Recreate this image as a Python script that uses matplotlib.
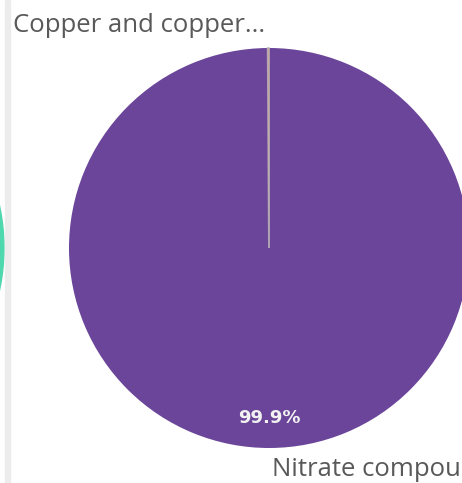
import matplotlib
matplotlib.use("Agg")
import matplotlib.pyplot as plt
from matplotlib.patches import Circle, Rectangle

# data
categories = ["Nitrate compounds", "Copper and copper compounds"]
shares = [99.9, 0.1]
colors = ["#6a4599", "#e2683c"]

W, H = 462, 483
fig = plt.figure(figsize=(W / 100, H / 100), dpi=100)
ax = fig.add_axes([0, 0, 1, 1])
ax.set_xlim(0, W)
ax.set_ylim(0, H)
ax.set_aspect("equal")
ax.axis("off")

# neighbouring panel bits on the left
ax.add_patch(Circle((-196, 235), 200, color="#4fd8ae", zorder=1))
ax.add_patch(Rectangle((5, 0), 5, H, color="#ececec", zorder=2))

cx, cy, r = 269, 235, 200


def pct(p):
    return f"{p:.1f}%" if p > 5 else ""


wedges, _, autotexts = ax.pie(
    shares, colors=colors, startangle=90, counterclock=False,
    center=(cx, cy), radius=r, autopct=pct, pctdistance=0.85,
    wedgeprops=dict(linewidth=0), frame=True,
    textprops=dict(color="#f2f2f2", fontsize=13, fontweight="bold"),
)
wedges[1].set_edgecolor((0.74, 0.72, 0.72, 0.8))
wedges[1].set_linewidth(1.4)
wedges[1].set_zorder(5)

ax.set_xlim(0, W)
ax.set_ylim(0, H)
ax.axis("off")

# labels as Qlik truncates them
ax.text(13, 457, categories[1][:17] + "...", fontsize=18.5, color="#595959",
        va="center", ha="left", family="Open Sans")
ax.text(272, 13, categories[0][:14], fontsize=18.5, color="#595959",
        va="center", ha="left", family="Open Sans")

fig.savefig("out.png", dpi=100)
